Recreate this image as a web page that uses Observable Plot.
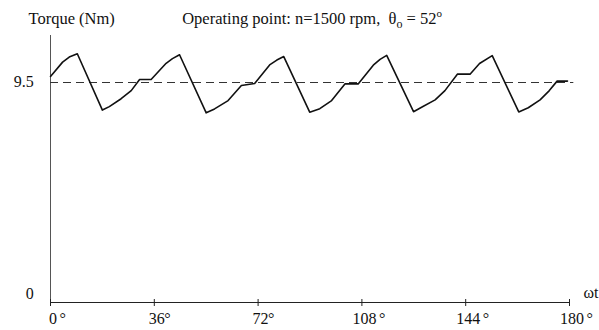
<!DOCTYPE html>
<html><head><meta charset="utf-8">
<script src="https://cdn.jsdelivr.net/npm/d3@7"></script>
<script src="https://cdn.jsdelivr.net/npm/@observablehq/plot@0.6"></script>
<style>html,body{margin:0;padding:0;background:#fff;} svg{display:block} svg text{font-family:"Liberation Serif","Times New Roman",serif;}</style>
</head><body><div id="chart"></div>
<script>
// ωt in degrees and torque in Nm
const angles = [0, 4.2, 6.5, 9.3, 18.0, 20.4, 24.5, 28.0, 30.9, 34.9, 40.1, 42.3, 44.75,
  54.0, 56.9, 61.6, 66.2, 70.8, 76.0, 78.5, 80.9,
  89.9, 93.4, 97.5, 102.1, 106.7, 111.95, 114.3, 116.6,
  125.9, 128.7, 133.4, 136.8, 141.1, 145.5, 148.8, 153.2,
  162.4, 165.7, 169.8, 173.0, 175.7, 179.3];
const torque = [9.76, 10.38, 10.6, 10.74, 8.31, 8.46, 8.8, 9.15, 9.63, 9.63, 10.33, 10.53, 10.7,
  8.19, 8.36, 8.72, 9.37, 9.46, 10.26, 10.47, 10.62,
  8.22, 8.37, 8.72, 9.44, 9.44, 10.25, 10.5, 10.67,
  8.24, 8.43, 8.75, 9.15, 9.86, 9.86, 10.32, 10.66,
  8.23, 8.41, 8.75, 9.15, 9.56, 9.56];
const referenceTorque = 9.5;
const referenceSpan = [0, 181.5];
const xTicks = [0, 36, 72, 108, 144, 180];
const yLabelTicks = [9.5];
const yZeroTicks = [0];
const yDomain = [0, 11.53];
const yLabel = "Torque (Nm)";
const xLabel = "ωt";
const titleText = "Operating point: n=1500 rpm,\u00a0\u00a0θo = 52o";

const wave = angles.map((a, i) => ({angle: a, torque: torque[i]}));
const degreeOffset = {1: 9, 2: 10, 3: 17};
const FONT = "'Liberation Serif', 'Times New Roman', serif";

const plot = Plot.plot({
  width: 599, height: 330,
  marginLeft: 50, marginRight: 30, marginTop: 35, marginBottom: 28,
  style: {fontFamily: FONT, fontSize: "16px", background: "#fff", overflow: "visible", color: "#111"},
  x: {domain: [0, 180], axis: null},
  y: {domain: yDomain, axis: null},
  marks: [
    Plot.ruleX([0], {stroke: "#555", strokeWidth: 1}),
    Plot.ruleY([0], {stroke: "#222", strokeWidth: 1}),
    Plot.ruleX(xTicks, {x: d => d, insetTop: 264, insetBottom: -4, stroke: "#222", strokeWidth: 1}),
    Plot.ruleY([referenceTorque], {x1: referenceSpan[0], x2: referenceSpan[1], stroke: "#333", strokeWidth: 1, strokeDasharray: "8,5"}),
    Plot.line(wave, {x: "angle", y: "torque", stroke: "#111", strokeWidth: 1.6}),
    // x tick labels
    Plot.text(xTicks, {x: d => d, frameAnchor: "bottom", text: d => String(d), textAnchor: "middle", lineAnchor: "bottom", dx: 2.5, dy: 21, fontSize: 16, fontFamily: FONT, fill: "#111"}),
    ...[1, 2, 3].map(n => Plot.text(xTicks.filter(d => String(d).length === n), {x: d => d, frameAnchor: "bottom", text: () => "°", textAnchor: "start", lineAnchor: "bottom", dx: degreeOffset[n], dy: 21, fontSize: 16, fontFamily: FONT, fill: "#111"})),
    // y tick labels
    Plot.text(yLabelTicks, {y: d => d, frameAnchor: "left", text: d => String(d), textAnchor: "end", lineAnchor: "bottom", dx: -16.7, dy: 4.7, fontSize: 16, fontFamily: FONT, fill: "#111"}),
    Plot.text(yZeroTicks, {y: d => d, frameAnchor: "left", text: d => String(d), textAnchor: "end", lineAnchor: "bottom", dx: -16.7, dy: -4, fontSize: 16, fontFamily: FONT, fill: "#111"}),
    // axis labels and title
    Plot.text([yLabel], {frameAnchor: "top-left", text: d => d, textAnchor: "start", lineAnchor: "bottom", dx: -22, dy: -12, fontSize: 16.5, fontFamily: FONT, fill: "#111"}),
    Plot.text([xLabel], {frameAnchor: "bottom-right", text: d => d, textAnchor: "start", lineAnchor: "bottom", dx: 14, dy: -5, fontSize: 16, fontFamily: FONT, fill: "#111"}),
    Plot.text([titleText], {frameAnchor: "top-left", text: d => d, textAnchor: "start", lineAnchor: "bottom", dx: 131.7, dy: -12, fontSize: 16.5, fontFamily: FONT, fill: "#111"})
  ]
});
document.getElementById("chart").appendChild(plot);

// Typeset θ subscript and degree superscript of the title
const NS = "http://www.w3.org/2000/svg";
for (const t of plot.querySelectorAll("text")) {
  if (t.textContent === titleText) {
    t.textContent = "";
    const parts = [
      {s: "Operating point: n=1500 rpm,\u00a0\u00a0θ"},
      {s: "o", size: 12, dy: 4},
      {s: " = 52", dy: -4},
      {s: "o", size: 11, dy: -7}
    ];
    for (const p of parts) {
      const sp = document.createElementNS(NS, "tspan");
      sp.textContent = p.s;
      if (p.size) sp.setAttribute("font-size", p.size);
      if (p.dy) sp.setAttribute("dy", p.dy);
      t.appendChild(sp);
    }
  }
}
</script>
</body></html>
